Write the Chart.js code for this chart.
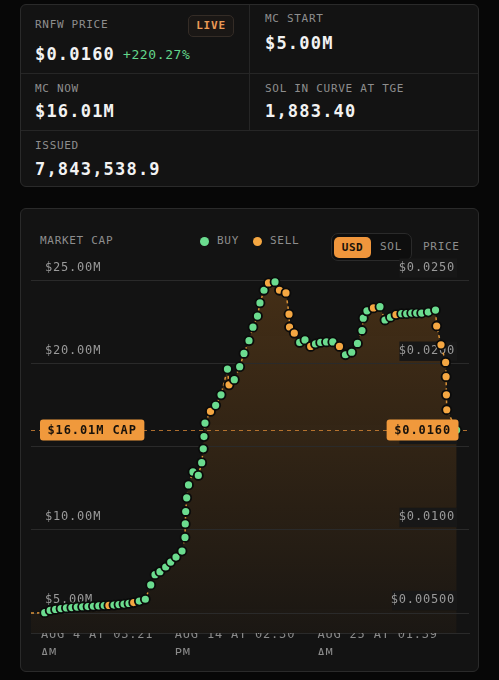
<!DOCTYPE html>
<html><head><meta charset="utf-8">
<script src="https://cdn.jsdelivr.net/npm/chart.js@4/dist/chart.umd.min.js"></script>
<style>
html,body{margin:0;padding:0;background:#070707;width:499px;height:680px;overflow:hidden;font-family:"DejaVu Sans Mono",monospace;}
.card{position:absolute;background:#131313;border:1px solid #2a2a2a;border-radius:6px;box-sizing:border-box;}
.t{position:absolute;white-space:nowrap;line-height:20px;height:20px;}
.lbl{font-size:11px;color:#8e8e8e;letter-spacing:0.7px;}
.val{font-size:17px;color:#f2f2f2;font-weight:bold;letter-spacing:1.2px;}
.hl{position:absolute;height:1px;background:#262626;}
.vl{position:absolute;width:1px;background:#262626;}
.dot{position:absolute;width:9px;height:9px;border-radius:50%;}
</style></head>
<body>
<div class="card" style="left:20px;top:4px;width:459px;height:183px;"></div>
<div class="hl" style="left:21px;top:73px;width:457px;"></div>
<div class="hl" style="left:21px;top:130px;width:457px;"></div>
<div class="vl" style="left:249px;top:5px;height:125px;"></div>

<div class="t lbl" style="left:35px;top:15px;">RNFW PRICE</div>
<div style="position:absolute;left:188px;top:15px;width:46px;height:22px;box-sizing:border-box;border:1px solid #342c26;background:#1a1715;border-radius:5px;color:#eb9a55;font-size:11px;font-weight:bold;letter-spacing:0.8px;line-height:20px;text-align:center;">LIVE</div>
<div class="t val" style="left:35px;top:44px;">$0.0160</div>
<div class="t" style="left:123px;top:45px;font-size:13px;color:#63d68b;letter-spacing:0.6px;">+220.27%</div>
<div class="t lbl" style="left:265px;top:9px;">MC START</div>
<div class="t val" style="left:265px;top:33px;">$5.00M</div>
<div class="t lbl" style="left:35px;top:79px;">MC NOW</div>
<div class="t val" style="left:35px;top:101px;">$16.01M</div>
<div class="t lbl" style="left:265px;top:79px;">SOL IN CURVE AT TGE</div>
<div class="t val" style="left:265px;top:101px;">1,883.40</div>
<div class="t lbl" style="left:35px;top:136px;">ISSUED</div>
<div class="t val" style="left:35px;top:159px;">7,843,538.9</div>

<div class="card" style="left:20px;top:208px;width:459px;height:464px;"></div>
<div class="t lbl" style="left:40px;top:231px;">MARKET CAP</div>
<div class="dot" style="left:200px;top:237px;background:#6bdc8f;"></div>
<div class="t lbl" style="left:217px;top:231px;">BUY</div>
<div class="dot" style="left:253px;top:237px;background:#f5a742;"></div>
<div class="t lbl" style="left:270px;top:231px;">SELL</div>
<div style="position:absolute;left:331px;top:233px;width:81px;height:28px;box-sizing:border-box;border:1px solid #2a2a2a;background:#0e0e0e;border-radius:7px;"></div>
<div style="position:absolute;left:334px;top:237px;width:37px;height:21px;background:#f0963c;border-radius:5px;color:#1a120a;font-size:11px;font-weight:bold;letter-spacing:0.6px;line-height:21px;text-align:center;">USD</div>
<div class="t lbl" style="left:380px;top:237px;">SOL</div>
<div class="t lbl" style="left:423px;top:237px;">PRICE</div>

<div style="position:absolute;left:20px;top:208px;width:459px;height:464px;"><canvas id="c"></canvas></div>

<script>
// ---- data ----
// hours since the first trade
const HOURS = [0, 24.9, 34.8, 44.6, 54.5, 64.3, 74.1, 83.9, 93.7, 103.5, 113.3, 123.1, 132.9,
  141.4, 150.6, 159.7, 168.8, 177.9, 186.4, 196.6, 207.5,
  217.3, 225.1, 234.1, 244.5, 253.6, 263.2, 274.1, 279.5, 280.0, 280.8, 282.6, 285.9, 294.0, 303.7,
  309.8, 312.7, 314.0, 315.8, 325.8, 335.2, 344.9, 356.6, 359.4, 369.0, 378.8, 386.6, 395.7, 402.9,
  411.1, 415.6, 422.9, 431.1, 442.9, 451.0, 462.8, 468.3, 469.2, 477.9, 487.7, 497.3, 507.6, 516.4,
  525.8, 536.3, 547.8, 559.9, 570.8, 582.1, 592.6, 600.8, 603.1, 609.8, 621.6, 633.4, 642.5, 652.5,
  662.5, 672.8, 681.9, 691.0, 700.0, 709.1, 721.1, 734.2, 736.3, 744.2, 752.6, 753.4, 754.0, 754.6, 772.6];
// market cap, $M
const MCAP = [5.00, 5.02, 5.16, 5.22, 5.27, 5.31, 5.33, 5.36, 5.38, 5.39, 5.41, 5.43, 5.45,
  5.46, 5.48, 5.51, 5.54, 5.58, 5.63, 5.72, 5.83,
  6.69, 7.31, 7.49, 7.77, 8.07, 8.37, 8.73, 9.55, 10.36, 11.11, 11.93, 12.71, 13.49, 13.28,
  14.05, 14.88, 15.62, 16.43, 17.13, 17.50, 18.13, 19.68, 18.73, 19.04, 19.82, 20.62, 21.39, 22.20,
  22.87, 23.66, 24.42, 24.86, 24.92, 24.42, 24.26, 22.98, 22.21, 21.84, 21.28, 21.43, 21.04, 21.19,
  21.28, 21.31, 21.31, 21.04, 20.54, 20.69, 21.22, 22.00, 22.74, 23.18, 23.36, 23.43, 22.63, 22.80,
  22.95, 23.01, 23.01, 23.05, 23.05, 23.05, 23.11, 23.23, 22.27, 21.14, 20.08, 19.22, 18.13, 17.23, 16.01];
// '-' = start, B = buy, S = sell
const SIDES = ('-' + 'BBBBBBBBBBBB' + 'S' + 'BBBB' + 'S' + 'BBBBBBBBBBBBBBBBBBBB' + 'S' + 'BBB' + 'S' +
  'BBBBBBBB' + 'S' + 'B' + 'SSSSS' + 'BB' + 'S' + 'BBBB' + 'S' + 'BBBBBB' + 'S' + 'BBB' + 'S' +
  'BBBBBBB' + 'SSSSSS' + 'B').split('');
const MC_TICKS = [5, 10, 15, 20, 25];
const TIME_TICKS = [18, 261, 520];
const TIME_LABELS = [['AUG 4 AT 03:21', 'AM'], ['AUG 14 AT 02:30', 'PM'], ['AUG 25 AT 01:39', 'AM']];
const SUPPLY_B = 1;            // 1B tokens: price = MC($M)/1000
const CURRENT_MC = 16.01;
const CAP_TEXT = '$16.01M CAP';
const PRICE_TEXT = '$0.0160';
const MC_MIN = 3.8, MC_MAX = 26, T_MAX = 795;

const GREEN = '#6bdc8f', ORANGE = '#f5a742';
const FONT = '"DejaVu Sans Mono", monospace';

const spacing = {
  id: 'spacing',
  beforeDraw(chart) { chart.ctx.letterSpacing = '0.8px'; }
};
const capPlugin = {
  id: 'cap',
  beforeDatasetsDraw(chart) {
    const {ctx, chartArea: a, scales: {y}} = chart;
    const py = Math.round(y.getPixelForValue(CURRENT_MC)) + 0.5;
    ctx.save();
    ctx.setLineDash([4, 4]);
    ctx.strokeStyle = 'rgba(240,150,60,0.7)';
    ctx.lineWidth = 1;
    ctx.beginPath(); ctx.moveTo(a.left, py); ctx.lineTo(a.right, py); ctx.stroke();
    ctx.restore();
  },
  afterDatasetsDraw(chart) {
    const {ctx, chartArea: a, scales: {y}} = chart;
    const py = y.getPixelForValue(CURRENT_MC);
    ctx.save();
    ctx.letterSpacing = '0.9px';
    ctx.font = 'bold 12px ' + FONT;
    ctx.textBaseline = 'middle';
    const box = (x0, text) => {
      const w = ctx.measureText(text).width + 15;
      ctx.fillStyle = '#f0993c';
      ctx.beginPath(); ctx.roundRect(x0, py - 10.5, w, 21, 3); ctx.fill();
      ctx.fillStyle = '#17110b';
      ctx.textAlign = 'left';
      ctx.fillText(text, x0 + 7.5, py + 0.5);
      return w;
    };
    box(a.left + 9, CAP_TEXT);
    const w2 = ctx.measureText(PRICE_TEXT).width + 15;
    box(a.right - 10.5 - w2, PRICE_TEXT);
    ctx.restore();
  }
};

new Chart(document.getElementById('c'), {
  type: 'line',
  data: {
    datasets: [{
      data: HOURS.map((h, i) => ({x: h, y: MCAP[i]})),
      borderColor: 'rgba(240,160,60,0.9)',
      borderWidth: 1.5,
      borderDash: [3, 3],
      tension: 0,
      fill: 'start',
      backgroundColor: (c) => {
        const a = c.chart.chartArea;
        if (!a) return 'transparent';
        const g = c.chart.ctx.createLinearGradient(0, a.top, 0, a.bottom);
        g.addColorStop(0, 'rgba(225,135,35,0.25)');
        g.addColorStop(1, 'rgba(225,135,35,0.04)');
        return g;
      },
      pointRadius: (c) => SIDES[c.dataIndex] === '-' ? 0 : 4.5,
      pointBorderWidth: 1.8,
      pointBorderColor: '#0b0b0b',
      pointBackgroundColor: SIDES.map(s => s === 'S' ? ORANGE : GREEN)
    }]
  },
  options: {
    responsive: true,
    maintainAspectRatio: false,
    animation: false,
    events: [],
    layout: {padding: {left: -17, right: 10, top: 56, bottom: 17}},
    plugins: {legend: {display: false}, tooltip: {enabled: false}, filler: {drawTime: 'beforeDraw'}},
    scales: {
      x: {
        type: 'linear', min: 0, max: T_MAX,
        afterBuildTicks: (s) => { s.ticks = TIME_TICKS.map(v => ({value: v})); },
        grid: {display: false, drawTicks: false},
        border: {display: true, color: '#2a2a2a'},
        ticks: {
          autoSkip: false, maxRotation: 0, align: 'start', padding: -8,
          color: '#8a8a8a', font: {family: FONT, size: 12, lineHeight: 19 / 12},
          callback: (v, i) => TIME_LABELS[i]
        }
      },
      y: {
        position: 'left', min: MC_MIN, max: MC_MAX,
        afterBuildTicks: (s) => { s.ticks = MC_TICKS.map(v => ({value: v})); },
        grid: {color: '#2a2a2a', drawTicks: false},
        border: {display: false},
        ticks: {
          mirror: true, padding: 14, labelOffset: -13,
          color: '#9a9a9a', font: {family: FONT, size: 12},
          callback: (v) => '$' + v.toFixed(2) + 'M'
        }
      },
      yp: {
        position: 'right', min: MC_MIN / 1000 / SUPPLY_B, max: MC_MAX / 1000 / SUPPLY_B,
        afterBuildTicks: (s) => { s.ticks = MC_TICKS.map(v => ({value: v / 1000 / SUPPLY_B})); },
        grid: {display: false, drawTicks: false},
        border: {display: false},
        ticks: {
          mirror: true, padding: -14, labelOffset: -13,
          color: '#9a9a9a', font: {family: FONT, size: 12},
          showLabelBackdrop: true, backdropColor: '#171717',
          backdropPadding: {left: 5, right: 2, top: 2, bottom: 3},
          callback: (v) => '$' + v.toPrecision(3)
        }
      }
    }
  },
  plugins: [spacing, capPlugin]
});
</script>
</body></html>
